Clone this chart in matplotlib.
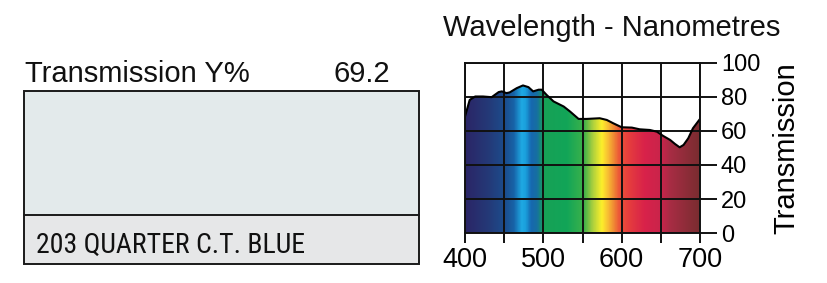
import numpy as np
import matplotlib
matplotlib.use("Agg")
import matplotlib.pyplot as plt
from matplotlib import font_manager
from matplotlib.colors import LinearSegmentedColormap
from matplotlib.patches import Rectangle

plt.rcParams['font.family'] = ['Liberation Sans', 'DejaVu Sans']

# ---- data ----
wavelength = [400, 406, 413, 423, 434, 443, 447, 453, 457, 466, 474, 481, 487, 494, 498,
              504, 513, 526, 534, 545, 555, 572, 581, 589, 600, 613, 623, 636, 645, 653,
              662, 668, 674, 679, 685, 691, 700]
transmission = [68.5, 78.3, 80.3, 80.3, 79.9, 82.9, 83.3, 82.3, 82.7, 85.2, 86.8, 85.8, 83.3, 84.3, 84.3,
                81.3, 77.4, 74.4, 71.5, 67.1, 67.1, 67.5, 66.5, 64.6, 62.2, 62.0, 61.0, 60.6, 59.6, 57.1,
                54.7, 52.4, 50.4, 51.8, 55.7, 61.6, 67.1]
x_major = [400, 500, 600, 700]
x_minor = [450, 550, 650]
y_ticks = [0, 20, 40, 60, 80, 100]
title_text = "Wavelength - Nanometres"
ylabel_text = "Transmission"
trans_label = "Transmission Y%"
trans_value = "69.2"
filter_name = "203 QUARTER C.T. BLUE"

# spectrum colour stops (wavelength, colour)
spec_stops = [(400, '#2b2566'), (430, '#243a78'), (450, '#1c4c8c'), (462, '#1763a8'),
              (472, '#1fa9e3'), (477, '#1aa0dc'), (484, '#1668b0'), (492, '#1670a0'),
              (500, '#17a156'), (530, '#12a558'), (552, '#3db24a'), (563, '#a9cf3e'),
              (575, '#fdf02a'), (582, '#f9c233'), (590, '#f08a34'), (597, '#ec5638'),
              (610, '#e53c3e'), (630, '#d8224a'), (652, '#c8244b'), (662, '#a82c44'),
              (700, '#7a2d30')]

# pick a condensed family if one is installed
narrow_family = None
for fam in ['Liberation Sans Narrow', 'Roboto Condensed', 'DejaVu Sans Condensed',
            'Open Sans Condensed', 'Noto Sans Condensed']:
    try:
        font_manager.findfont(font_manager.FontProperties(family=fam), fallback_to_default=False)
        narrow_family = fam
        break
    except Exception:
        pass

# ---- figure ----
W, H = 827, 283
fig = plt.figure(figsize=(W / 100, H / 100), dpi=100)

# left swatch box
bx0, by0, bx1, by1 = 24, 91, 419, 264
axb = fig.add_axes([bx0 / W, 1 - by1 / H, (bx1 - bx0) / W, (by1 - by0) / H])
axb.set_xlim(0, 1)
axb.set_ylim(0, 1)
axb.axis('off')
div = (by1 - 215) / (by1 - by0)
axb.add_patch(Rectangle((0, div), 1, 1 - div, facecolor='#e3eaeb', edgecolor='none'))
axb.add_patch(Rectangle((0, 0), 1, div, facecolor='#e6e7e8', edgecolor='none'))
axb.add_patch(Rectangle((0, 0), 1, 1, facecolor='none', edgecolor='#1a1a1a', lw=1.4, clip_on=False))
axb.plot([0, 1], [div, div], color='#1a1a1a', lw=1.4, clip_on=False)

fig.text(25 / W, 1 - 82 / H, trans_label, fontsize=21, ha='left', va='baseline', color='#111111')
fig.text(390 / W, 1 - 82 / H, trans_value, fontsize=21, ha='right', va='baseline', color='#111111')

if narrow_family is not None:
    fig.text(36 / W, 1 - 253 / H, filter_name, fontsize=20, ha='left', va='baseline', color='#111111',
             family=[narrow_family, 'Liberation Sans', 'DejaVu Sans'])
else:
    fig.text(36 / W, 1 - 253 / H, filter_name, fontsize=16.5, ha='left', va='baseline', color='#111111')

# right chart
ax = fig.add_axes([465 / W, 1 - 233 / H, 235 / W, 170 / H])
xs = np.array([s[0] for s in spec_stops], dtype=float)
cols = [s[1] for s in spec_stops]
cmap = LinearSegmentedColormap.from_list('spec', list(zip((xs - 400) / 300, cols)))
grad = np.linspace(0, 1, 600).reshape(1, -1)
im = ax.imshow(grad, cmap=cmap, extent=[400, 700, 0, 100], aspect='auto', zorder=0,
               interpolation='bilinear')
poly = ax.fill_between(wavelength, 0, transmission, facecolor='none', edgecolor='none')
im.set_clip_path(poly.get_paths()[0], transform=ax.transData)
ax.plot(wavelength, transmission, color='black', lw=1.5, zorder=4, solid_joinstyle='round')

ax.set_xlim(400, 700)
ax.set_ylim(0, 100)
ax.set_xticks(x_major)
ax.set_xticks(x_minor, minor=True)
ax.set_yticks(y_ticks)
ax.yaxis.tick_right()
ax.yaxis.set_label_position('right')
ax.grid(True, which='both', color='#111111', lw=1.4, zorder=3)
ax.set_axisbelow(False)
for s in ax.spines.values():
    s.set_color('#111111')
    s.set_linewidth(1.4)
    s.set_zorder(5)
ax.tick_params(axis='x', which='both', direction='out', length=7, width=1.4, color='#111111',
               labelsize=19.5, pad=3)
ax.tick_params(axis='y', which='both', direction='out', length=12, width=1.4, color='#111111',
               labelsize=17, pad=3, left=False, right=True)
ax.set_ylabel(ylabel_text, fontsize=21, labelpad=9)
fig.text(443 / W, 1 - 36 / H, title_text, fontsize=21, ha='left', va='baseline', color='#111111')

fig.savefig('out.png', dpi=100)
